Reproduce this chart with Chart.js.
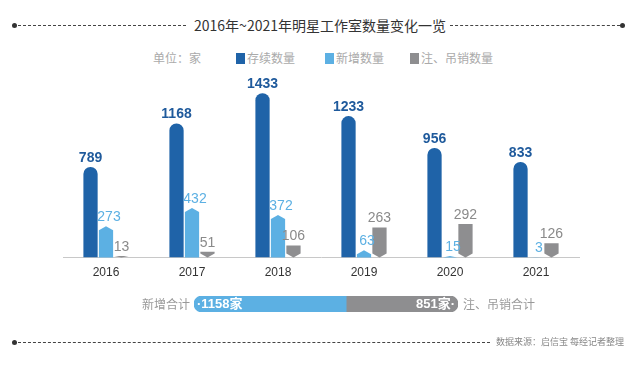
<!DOCTYPE html>
<html>
<head>
<meta charset="utf-8">
<script src="https://cdn.jsdelivr.net/npm/chart.js@4.4.1/dist/chart.umd.min.js"></script>
<style>
  body { margin: 0; width: 640px; height: 372px; background: #fff; position: relative; overflow: hidden;
         font-family: "Noto Sans CJK SC", "Liberation Sans", sans-serif; }
  #main { position: absolute; left: 0; top: 0; width: 640px; height: 372px; }
  #total { position: absolute; left: 194px; top: 296px; width: 264px; height: 16px; }
  .line { position: absolute; border-top: 1px dashed #444; height: 0; }
  .dot { position: absolute; width: 5px; height: 5px; border-radius: 50%; background: #333; }
  .title { position: absolute; top: 15px; left: 0; width: 640px; text-align: center; font-size: 14px; color: #333; }
  .legend { position: absolute; top: 49px; font-size: 12px; color: #aaa; white-space: nowrap; }
  .sw { display: inline-block; width: 9px; height: 11px; vertical-align: -1px; margin-right: 2px; }
  .lbl { position: absolute; font-size: 12px; color: #999; top: 295px; }
  .src { position: absolute; left: 496px; top: 335px; font-size: 9px; color: #888; }
</style>
</head>
<body>
<div class="dot" style="left:12px; top:23px"></div>
<div class="line" style="left:18px; top:25px; width:168px"></div>
<div class="title">2016年~2021年明星工作室数量变化一览</div>
<div class="line" style="left:450px; top:25px; width:170px"></div>
<div class="dot" style="left:620px; top:23px"></div>

<div class="legend" style="left:153px">单位：家</div>
<div class="legend" style="left:236px"><span class="sw" style="background:#1f63a8"></span>存续数量</div>
<div class="legend" style="left:325px"><span class="sw" style="background:#5cb0e3"></span>新增数量</div>
<div class="legend" style="left:410px"><span class="sw" style="background:#8e8e90"></span>注、吊销数量</div>

<canvas id="main" width="640" height="372"></canvas>
<div id="total"><canvas id="totalCanvas"></canvas></div>
<div class="lbl" style="left:142px">新增合计</div>
<div class="lbl" style="left:463px">注、吊销合计</div>

<div class="dot" style="left:12px; top:340px"></div>
<div class="line" style="left:18px; top:342px; width:472px"></div>
<div class="src">数据来源：启信宝 每经记者整理</div>

<script>
const years = ['2016', '2017', '2018', '2019', '2020', '2021'];
const existing = [789, 1168, 1433, 1233, 956, 833];
const added = [273, 432, 372, 63, 15, 3];
const revoked = [13, 51, 106, 263, 292, 126];
const totalLabels = ['新增合计', '注、吊销合计'];
const totalValues = [1158, 851];

const COLORS = ['#1f63a8', '#5cb0e3', '#8e8e90'];
const LABEL_COLORS = ['#1f5a9c', '#5cb0e3', '#8a8a8a'];

// фигурные столбцы: новые - с острым верхом, закрытые - с острым низом
const shapedBars = {
  id: 'shapedBars',
  beforeDatasetDraw(chart, args) {
    const i = args.index;
    if (i === 0) return;
    const ctx = chart.ctx;
    ctx.save();
    ctx.fillStyle = COLORS[i];
    args.meta.data.forEach(bar => {
      const hw = bar.width / 2;
      const l = bar.x - hw, r = bar.x + hw;
      const top = bar.y, base = bar.base;
      const tip = Math.min(4, base - top);
      ctx.beginPath();
      if (i === 1) {
        ctx.moveTo(l, base);
        ctx.lineTo(l, top + tip);
        ctx.lineTo(bar.x, top);
        ctx.lineTo(r, top + tip);
        ctx.lineTo(r, base);
      } else {
        ctx.moveTo(l, top);
        ctx.lineTo(r, top);
        ctx.lineTo(r, base - tip);
        ctx.lineTo(bar.x, base);
        ctx.lineTo(l, base - tip);
      }
      ctx.closePath();
      ctx.fill();
    });
    ctx.restore();
    return false;
  }
};

// подписи над столбцами
const barLabels = {
  id: 'barLabels',
  afterDatasetsDraw(chart) {
    const ctx = chart.ctx;
    ctx.save();
    ctx.textAlign = 'center';
    ctx.textBaseline = 'bottom';
    chart.data.datasets.forEach((ds, i) => {
      const meta = chart.getDatasetMeta(i);
      ctx.fillStyle = LABEL_COLORS[i];
      ctx.font = (i === 0 ? '600 ' : '') + '14px "Liberation Sans", Arial, sans-serif';
      meta.data.forEach((bar, j) => {
        ctx.fillText(ds.data[j], bar.x + (i === 1 ? 3 : 0), bar.y - 2);
      });
    });
    ctx.restore();
  }
};

new Chart(document.getElementById('main'), {
  type: 'bar',
  data: {
    labels: years,
    datasets: [
      { label: '存续数量', data: existing, backgroundColor: COLORS[0],
        borderRadius: { topLeft: 7, topRight: 7 }, borderSkipped: 'bottom' },
      { label: '新增数量', data: added, backgroundColor: COLORS[1] },
      { label: '注、吊销数量', data: revoked, backgroundColor: COLORS[2] }
    ]
  },
  options: {
    responsive: false,
    animation: false,
    layout: { padding: { left: 63, right: 61, top: 74, bottom: 92 } },
    datasets: { bar: { categoryPercentage: 0.54, barPercentage: 0.92 } },
    scales: {
      y: { display: false, min: 0, max: 1600 },
      x: {
        grid: { display: false },
        border: { color: '#c8c8c8', width: 1 },
        ticks: { color: '#333', padding: 0, font: { size: 12, family: '"Liberation Sans", Arial, sans-serif' } }
      }
    },
    plugins: { legend: { display: false }, tooltip: { enabled: false } }
  },
  plugins: [shapedBars, barLabels]
});

// итоговая полоса
const totalText = {
  id: 'totalText',
  afterDatasetsDraw(chart) {
    const ctx = chart.ctx;
    ctx.save();
    ctx.fillStyle = '#fff';
    ctx.font = '600 13px "Liberation Sans", "Noto Sans CJK SC", sans-serif';
    ctx.textBaseline = 'middle';
    const a = chart.getDatasetMeta(0).data[0];
    const b = chart.getDatasetMeta(1).data[0];
    ctx.textAlign = 'left';
    ctx.fillText('·' + totalValues[0] + '家', a.base + 3, a.y);
    ctx.textAlign = 'right';
    ctx.fillText(totalValues[1] + '家·', b.x - 3, b.y);
    ctx.restore();
  }
};

new Chart(document.getElementById('totalCanvas'), {
  type: 'bar',
  data: {
    labels: [''],
    datasets: [
      { label: totalLabels[0], data: [totalValues[0]], backgroundColor: '#5cb0e3',
        borderRadius: { topLeft: 8, bottomLeft: 8 } },
      { label: totalLabels[1], data: [totalValues[1]], backgroundColor: '#8e8e90',
        borderRadius: { topRight: 8, bottomRight: 8 } }
    ]
  },
  options: {
    indexAxis: 'y',
    responsive: true,
    maintainAspectRatio: false,
    animation: false,
    layout: { padding: 0 },
    datasets: { bar: { categoryPercentage: 1, barPercentage: 1, borderSkipped: false } },
    scales: {
      x: { display: false, stacked: true, min: 0, max: totalValues[0] + totalValues[1] },
      y: { display: false, stacked: true }
    },
    plugins: { legend: { display: false }, tooltip: { enabled: false } }
  },
  plugins: [totalText]
});
</script>
</body>
</html>
